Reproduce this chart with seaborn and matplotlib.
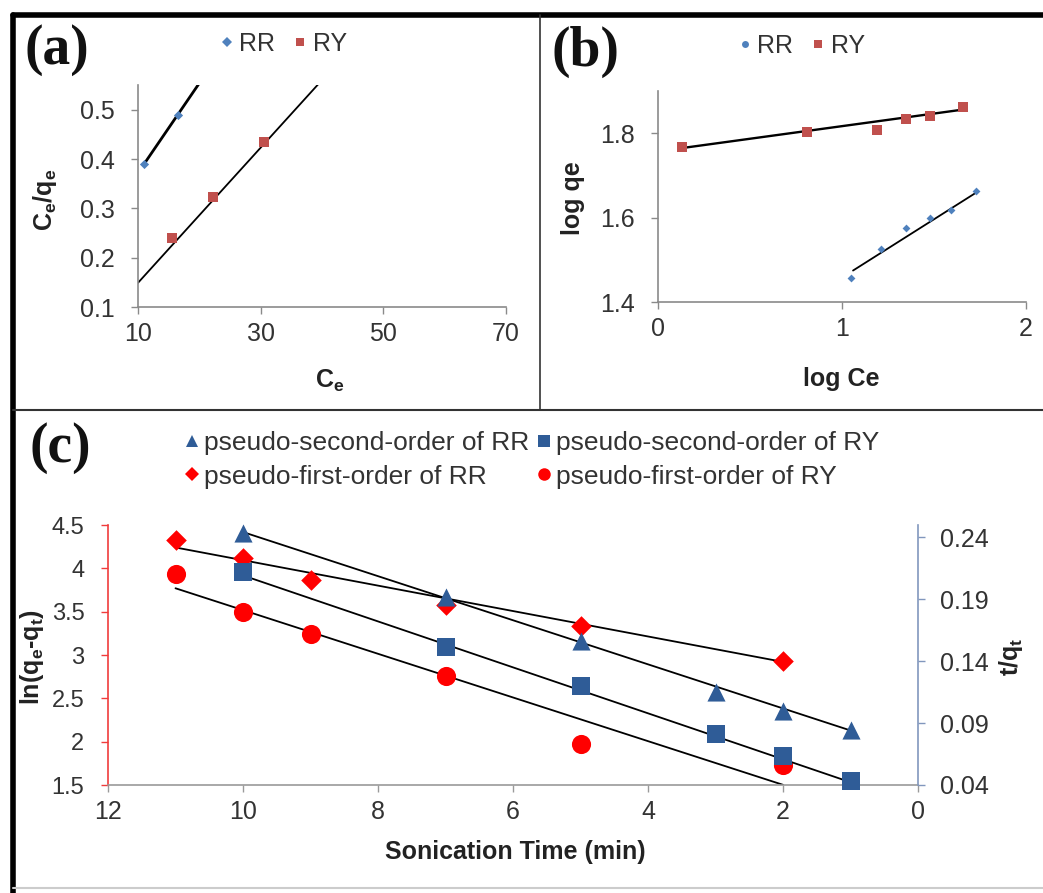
import matplotlib
matplotlib.use("Agg")
import matplotlib.pyplot as plt
from matplotlib.lines import Line2D
import seaborn as sns
import numpy as np

sns.set_style("white")
plt.rcParams["font.family"] = ["Liberation Sans", "DejaVu Sans"]
plt.rcParams["mathtext.fontset"] = "custom"
plt.rcParams["mathtext.rm"] = "Liberation Sans"
plt.rcParams["mathtext.bf"] = "Liberation Sans:bold"
plt.rcParams["mathtext.it"] = "Liberation Sans:italic"

# ---- (a) Langmuir: Ce vs Ce/qe ----
ce_rr = [11, 16.5]
ceqe_rr = [0.39, 0.49]
ce_ry = [15.5, 22.2, 30.6]
ceqe_ry = [0.24, 0.322, 0.434]

# ---- (b) Freundlich: log Ce vs log qe ----
logce_rr = [1.05, 1.21, 1.35, 1.48, 1.59, 1.73]
logqe_rr = [1.456, 1.525, 1.575, 1.599, 1.617, 1.663]
logce_ry = [0.13, 0.81, 1.19, 1.35, 1.48, 1.66]
logqe_ry = [1.767, 1.803, 1.807, 1.833, 1.840, 1.861]

# ---- (c) kinetics vs sonication time ----
t_second = [10, 7, 5, 3, 2, 1]
tq_rr = [0.243, 0.192, 0.156, 0.115, 0.100, 0.084]
tq_ry = [0.212, 0.151, 0.120, 0.081, 0.063, 0.043]
t_first = [11, 10, 9, 7, 5, 2]
ln_rr = [4.33, 4.12, 3.86, 3.58, 3.33, 2.93]
ln_ry = [3.94, 3.50, 3.24, 2.76, 1.97, 1.73]

# trendlines: slope, intercept, x from, x to
trend_a_rr = [0.0182, 0.1898, 11, 20]
trend_a_ry = [0.0137, 0.012, 10, 40]
trend_b_rr = [0.276, 1.182, 1.06, 1.73]
trend_b_ry = [0.0597, 1.757, 0.13, 1.67]
trend_first_rr = [0.1467, 2.627, 2, 11]
trend_first_ry = [0.252, 0.998, 2, 11]
trend_second_rr = [0.01778, 0.0662, 1, 10]
trend_second_ry = [0.01853, 0.0237, 1, 10]

W, H = 1043, 893
RR_BLUE = "#4F81BD"
RY_RED = "#C0504D"
C_BLUE = "#2F5C97"
C_RED = "#FF0000"
TXT = "#333333"
FS = 18


def px(x, y, w, h):
    # pixel box (left, top, width, height) -> figure fraction
    return [x / W, 1 - (y + h) / H, w / W, h / H]


def trend(ax, p, lw=1.3):
    xs = np.array([p[2], p[3]])
    sns.lineplot(x=xs, y=p[0] * xs + p[1], ax=ax, color="black", lw=lw,
                 legend=False)


def style(ax, spine_color="#8a8a8a"):
    sns.despine(ax=ax)
    for s in ["left", "bottom"]:
        ax.spines[s].set_color(spine_color)
        ax.spines[s].set_linewidth(1.2)
    ax.tick_params(direction="out", length=5, width=1, color=spine_color,
                   labelsize=FS, labelcolor=TXT, pad=6,
                   left=True, bottom=True)
    ax.tick_params(axis="y", pad=12)


fig = plt.figure(figsize=(W / 100, H / 100), dpi=100)

# ---------- panel (a) ----------
ax_a = fig.add_axes(px(138, 85, 368, 222))
trend(ax_a, trend_a_rr, lw=2)
trend(ax_a, trend_a_ry)
sns.scatterplot(x=ce_rr, y=ceqe_rr, ax=ax_a, marker="D", s=22, color=RR_BLUE,
                linewidth=0, zorder=3)
sns.scatterplot(x=ce_ry, y=ceqe_ry, ax=ax_a, marker="s", s=45, color=RY_RED,
                linewidth=0, zorder=3)
ax_a.set_xlim(10, 70)
ax_a.set_ylim(0.1, 0.55)
ax_a.set_xticks([10, 30, 50, 70])
ax_a.set_yticks([0.1, 0.2, 0.3, 0.4, 0.5])
style(ax_a)

# ---------- panel (b) ----------
ax_b = fig.add_axes(px(658, 91, 368, 211))
trend(ax_b, trend_b_rr)
trend(ax_b, trend_b_ry, lw=1.7)
sns.scatterplot(x=logce_rr, y=logqe_rr, ax=ax_b, marker="D", s=16,
                color=RR_BLUE, linewidth=0, zorder=3)
sns.scatterplot(x=logce_ry, y=logqe_ry, ax=ax_b, marker="s", s=45,
                color=RY_RED, linewidth=0, zorder=3)
ax_b.set_xlim(0, 2)
ax_b.set_ylim(1.4, 1.9)
ax_b.set_xticks([0, 1, 2])
ax_b.set_yticks([1.4, 1.6, 1.8])
style(ax_b)

# ---------- panel (c) ----------
ax_c = fig.add_axes(px(108, 525, 810, 260))
ax_r = ax_c.twinx()
trend(ax_c, trend_first_rr)
trend(ax_c, trend_first_ry)
trend(ax_r, trend_second_rr)
trend(ax_r, trend_second_ry)
sns.scatterplot(x=t_first, y=ln_rr, ax=ax_c, marker="D", s=110, color=C_RED,
                linewidth=0, zorder=3, clip_on=False)
sns.scatterplot(x=t_first, y=ln_ry, ax=ax_c, marker="o", s=190, color=C_RED,
                linewidth=0, zorder=3, clip_on=False)
sns.scatterplot(x=t_second, y=tq_rr, ax=ax_r, marker="^", s=170,
                color=C_BLUE, linewidth=0, zorder=3, clip_on=False)
sns.scatterplot(x=t_second, y=tq_ry, ax=ax_r, marker="s", s=150,
                color=C_BLUE, linewidth=0, zorder=3, clip_on=False)
ax_c.set_xlim(12, 0)
ax_c.set_ylim(1.5, 4.5)
ax_c.set_xticks([12, 10, 8, 6, 4, 2, 0])
ax_c.set_yticks([1.5, 2, 2.5, 3, 3.5, 4, 4.5])
ax_c.set_yticklabels(["1.5", "2", "2.5", "3", "3.5", "4", "4.5"])
ax_r.set_ylim(0.04, 0.2497)
ax_r.set_yticks([0.04, 0.09, 0.14, 0.19, 0.24])
ax_r.set_ylabel("")
ax_c.set_ylabel("")

style(ax_c, spine_color="#9a9a9a")
ax_c.spines["left"].set_color("#F03C3C")
ax_c.tick_params(axis="y", color="#F03C3C", labelsize=17)
for s in ["top", "left", "bottom"]:
    ax_r.spines[s].set_visible(False)
ax_r.spines["right"].set_color("#8197BD")
ax_r.spines["right"].set_linewidth(1.2)
ax_r.tick_params(axis="y", direction="out", length=5, width=1,
                 color="#8197BD", labelsize=FS, labelcolor=TXT, pad=11)

# ---------- labels ----------
def ftext(x, y, s, **kw):
    fig.text(x / W, 1 - y / H, s, ha="center", va="center", **kw)


bold = dict(fontsize=FS, fontweight="bold", color="#222222")
ftext(330, 381, r"C$_\mathbf{e}$", **bold)
ftext(45, 200, r"C$_\mathbf{e}$/q$_\mathbf{e}$", rotation=90, **bold)
ftext(841, 379, "log Ce", **bold)
ftext(573, 198, "log qe", rotation=90, **bold)
ftext(515, 852, "Sonication Time (min)", **bold)
ftext(32, 657, r"ln(q$_\mathbf{e}$-q$_\mathbf{t}$)", rotation=90, **bold)
ftext(1011, 657, r"t/q$_\mathbf{t}$", rotation=90, **bold)

panel = dict(fontsize=40, fontweight="bold", family="Liberation Serif",
             color="#111111")
ftext(57, 50, "(a)", **panel)
ftext(585, 52, "(b)", **panel)
ftext(60, 448, "(c)", **panel)

# ---------- legends ----------
def h(marker, color, ms):
    return Line2D([], [], ls="none", marker=marker, color=color,
                  markersize=ms, markeredgewidth=0)


fig.legend([h("D", RR_BLUE, 5), h("s", RY_RED, 6)], ["RR", "RY"],
           loc="center", bbox_to_anchor=(282 / W, 1 - 44 / H), ncol=2,
           frameon=False, fontsize=FS, handletextpad=0.1, columnspacing=0.6,
           handlelength=0.8, borderpad=0, labelcolor=TXT)
fig.legend([h("o", RR_BLUE, 5), h("s", RY_RED, 6)], ["RR", "RY"],
           loc="center", bbox_to_anchor=(800 / W, 1 - 46 / H), ncol=2,
           frameon=False, fontsize=FS, handletextpad=0.1, columnspacing=0.6,
           handlelength=0.8, borderpad=0, labelcolor=TXT)
fig.legend([h("^", C_BLUE, 9), h("D", C_RED, 7),
            h("s", C_BLUE, 9), h("o", C_RED, 9)],
           ["pseudo-second-order of RR", "pseudo-first-order of RR",
            "pseudo-second-order of RY", "pseudo-first-order of RY"],
           loc="center", bbox_to_anchor=(531 / W, 1 - 460 / H), ncol=2,
           frameon=False, fontsize=19, handletextpad=0.1, columnspacing=0.2,
           handlelength=0.7, borderpad=0, labelspacing=0.35, labelcolor=TXT)

# ---------- frame ----------
def fline(x0, y0, x1, y1, lw, color):
    fig.add_artist(Line2D([x0 / W, x1 / W], [1 - y0 / H, 1 - y1 / H],
                          lw=lw, color=color, transform=fig.transFigure))


fline(13, 15, 1043, 15, 4, "black")
fline(13, 15, 13, 893, 4, "black")
fline(540, 15, 540, 410, 1.2, "#333333")
fline(13, 410, 1043, 410, 1.5, "#333333")
fline(13, 888, 1043, 888, 1.5, "#cccccc")

fig.savefig("out.png", dpi=100)
